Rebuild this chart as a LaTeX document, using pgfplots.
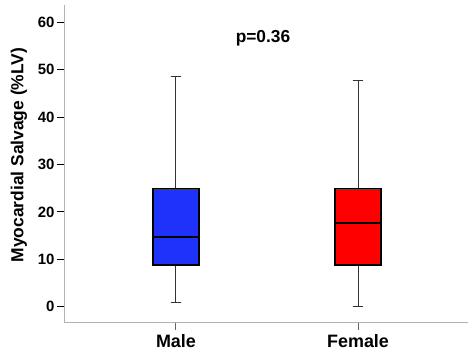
\documentclass[border=0pt]{standalone}
\usepackage{fontspec}
\setmainfont{Liberation Sans}
\usepackage{pgfplots}
\pgfplotsset{compat=1.18}
\usepgfplotslibrary{statistics}
\definecolor{mblue}{RGB}{30,50,250}
\definecolor{fred}{RGB}{255,0,0}
\begin{document}
\begin{tikzpicture}
\begin{axis}[name=ax, scale only axis, width=404bp, height=318bp,
  xmin=0.385, xmax=2.604, ymin=-3.4, ymax=63.6,
  axis x line*=bottom, axis y line*=left,
  axis line style={gray!60, line width=1pt},
  xtick={1,2}, xticklabels={Male,Female},
  ytick={0,10,20,30,40,50,60},
  tick align=outside, major tick length=7bp,
  x tick style={gray!80!black, line width=1pt},
  y tick style={black, line width=1pt},
  /pgf/number format/assume math mode=true,
  x tick label style={font=\fontsize{18}{20}\selectfont\bfseries, yshift=-1bp},
  y tick label style={font=\fontsize{15}{17}\selectfont\bfseries, xshift=1bp},
  ylabel={Myocardial Salvage (\%LV)},
  ylabel style={at={(ticklabel cs:0.528)}, font=\fontsize{17.5}{19}\selectfont\bfseries, yshift=4bp},
  boxplot/draw direction=y,
  boxplot/every median/.style={line width=2pt, black},
  boxplot/every whisker/.style={line width=1pt, black!80},
]
\addplot[boxplot prepared={lower whisker=0.9, lower quartile=8.8, median=14.7,
  upper quartile=25.0, upper whisker=48.6, draw position=1,
  box extend=0.253, whisker extend=0.06},
  fill=mblue, draw=black, line width=1.2pt] coordinates {};
\addplot[boxplot prepared={lower whisker=0.0, lower quartile=8.8, median=17.7,
  upper quartile=25.0, upper whisker=47.6, draw position=2,
  box extend=0.253, whisker extend=0.06},
  fill=fred, draw=black, line width=1.2pt] coordinates {};
\node[font=\fontsize{17.4}{19}\selectfont\bfseries] at (axis cs:1.478,56.6) {p=0.36};
\end{axis}
\pgfresetboundingbox
\useasboundingbox ([shift={(-64bp,-33bp)}]ax.south west) rectangle ([shift={(6bp,5bp)}]ax.north east);
\end{tikzpicture}
\end{document}
